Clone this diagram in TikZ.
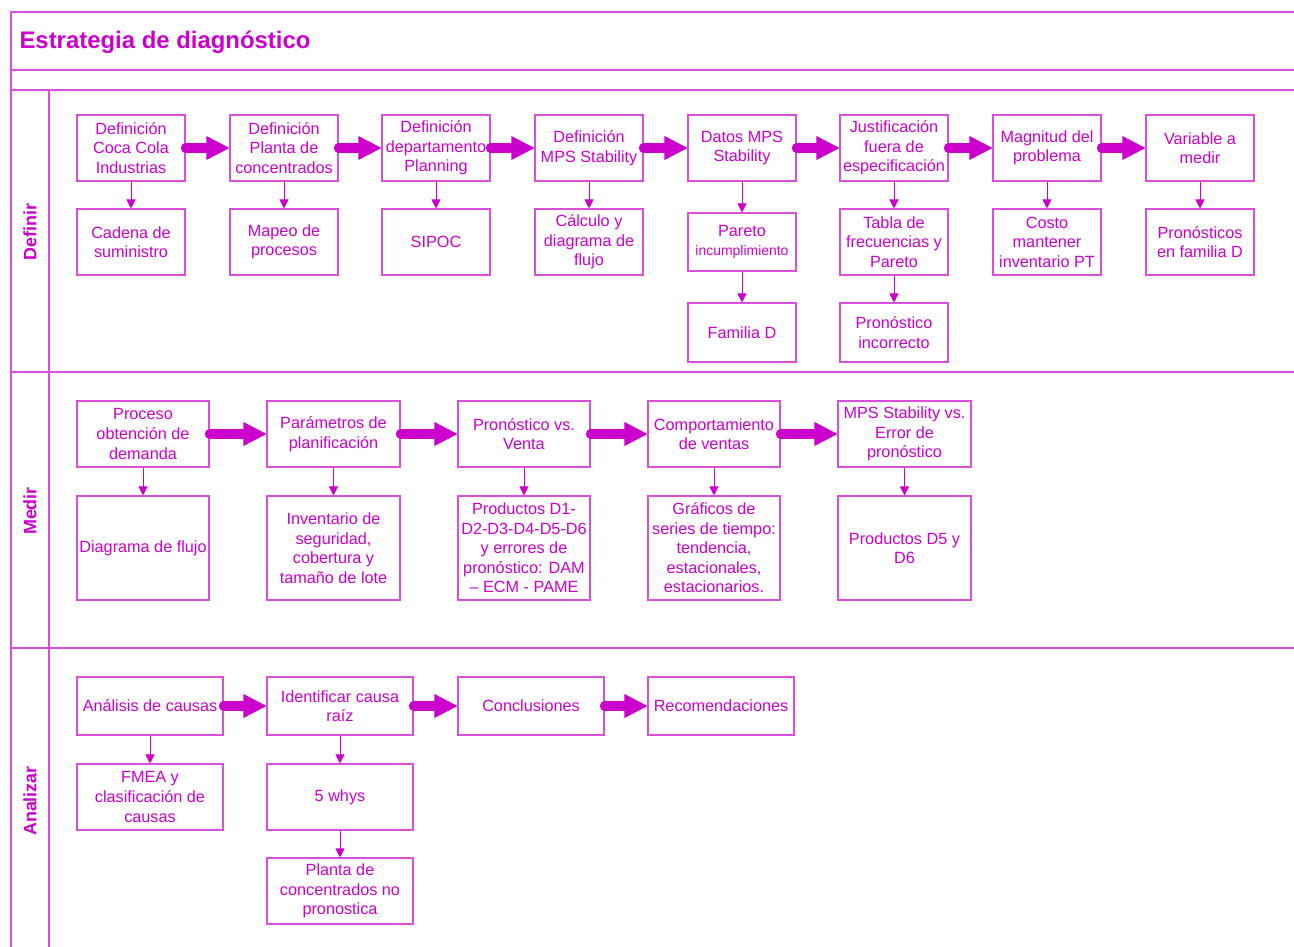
\documentclass[tikz,border=0pt]{standalone}
\usepackage{fontspec}
\setmainfont{Liberation Sans}
\usetikzlibrary{arrows.meta}
\definecolor{mag}{HTML}{CC00CC}
\definecolor{magline}{HTML}{D94FD9}

\tikzset{
  box/.style={draw=magline, line width=1.1bp, fill=white, inner sep=0pt,
    align=center, text=mag, font=\fontsize{16.3}{19.6}\selectfont},
  flow/.style={draw=mag, line width=9.5bp, line cap=round,
    -{Triangle[length=23bp,width=24bp,line width=0pt]}},
  sub/.style={draw=mag, line width=1bp,
    -{Triangle[length=9bp,width=9bp]}},
  lane/.style={draw=magline, line width=1.2bp},
  lanelabel/.style={rotate=90, text=mag, font=\bfseries\fontsize{18}{21}\selectfont}
}

% box given by its corners (x1,y1) and (x2,y2)
\newcommand\pbox[6]{%
  \node[box, minimum width={(#4-#2)*1bp}, minimum height={(#5-#3)*1bp}]
    (#1) at ({(#2+#4)/2},{(#3+#5)/2}) {#6};}

\begin{document}
\begin{tikzpicture}[x=1bp, y=-1bp]
\useasboundingbox (0,0) rectangle (1294,947);
\fill[white] (0,0) rectangle (1294,947);

% frame and swimlanes
\draw[lane] (1294,12) -- (11,12) -- (11,947);
\draw[lane] (11,70) -- (1294,70);
\draw[lane] (11,90) -- (1294,90);
\draw[lane] (11,372) -- (1294,372);
\draw[lane] (11,648) -- (1294,648);
\draw[lane] (49,90) -- (49,947);

\node[anchor=west, text=mag, font=\bfseries\fontsize{24}{28}\selectfont]
  (title) at (16,42) {Estrategia de diagnóstico};

\node[lanelabel] (lDef) at (30,232) {Definir};
\node[lanelabel] (lMed) at (30,511) {Medir};
\node[lanelabel] (lAna) at (30,801) {Analizar};

% Definir
\pbox{d1}{77}{115}{185}{181}{Definición\\Coca Cola\\Industrias}
\pbox{d2}{230}{115}{338}{181}{Definición\\Planta de\\concentrados}
\pbox{d3}{382}{115}{490}{181}{Definición\\departamento\\Planning}
\pbox{d4}{535}{115}{643}{181}{Definición\\MPS Stability}
\pbox{d5}{688}{115}{796}{181}{Datos MPS\\Stability}
\pbox{d6}{840}{115}{948}{181}{Justificación\\fuera de\\especificación}
\pbox{d7}{993}{115}{1101}{181}{Magnitud del\\problema}
\pbox{d8}{1146}{115}{1254}{181}{Variable a\\medir}

\pbox{e1}{77}{209}{185}{275}{Cadena de\\suministro}
\pbox{e2}{230}{209}{338}{275}{Mapeo de\\procesos}
\pbox{e3}{382}{209}{490}{275}{SIPOC}
\pbox{e4}{535}{209}{643}{275}{Cálculo y\\diagrama de\\flujo}
\pbox{e5}{688}{213}{796}{271}{Pareto\\{\fontsize{14}{17}\selectfont incumplimiento}}
\pbox{e6}{840}{209}{948}{275}{Tabla de\\frecuencias y\\Pareto}
\pbox{e7}{993}{209}{1101}{275}{Costo\\mantener\\inventario PT}
\pbox{e8}{1146}{209}{1254}{275}{Pronósticos\\en familia D}

\pbox{f5}{688}{303}{796}{362}{Familia D}
\pbox{f6}{840}{303}{948}{362}{Pronóstico\\incorrecto}

\foreach \a/\b in {d1/d2,d2/d3,d3/d4,d4/d5,d5/d6,d6/d7,d7/d8}
  \draw[flow] (\a.east) -- (\b.west);
\foreach \a/\b in {d1/e1,d2/e2,d3/e3,d4/e4,d5/e5,d6/e6,d7/e7,d8/e8,e5/f5,e6/f6}
  \draw[sub] (\a.south) -- (\b.north);

% Medir
\pbox{m1}{77}{401}{209}{467}{Proceso\\obtención de\\demanda}
\pbox{m2}{267}{401}{400}{467}{Parámetros de\\planificación}
\pbox{m3}{458}{401}{590}{467}{Pronóstico vs.\\Venta}
\pbox{m4}{648}{401}{780}{467}{Comportamiento\\de ventas}
\pbox{m5}{838}{401}{971}{467}{MPS Stability vs.\\Error de\\pronóstico}

\pbox{n1}{77}{496}{209}{600}{Diagrama de flujo}
\pbox{n2}{267}{496}{400}{600}{Inventario de\\seguridad,\\cobertura y\\tamaño de lote}
\pbox{n3}{458}{496}{590}{600}{Productos D1-\\D2-D3-D4-D5-D6\\y errores de\\pronóstico: DAM\\– ECM - PAME}
\pbox{n4}{648}{496}{780}{600}{Gráficos de\\series de tiempo:\\tendencia,\\estacionales,\\estacionarios.}
\pbox{n5}{838}{496}{971}{600}{Productos D5 y\\D6}

\foreach \a/\b in {m1/m2,m2/m3,m3/m4,m4/m5}
  \draw[flow] (\a.east) -- (\b.west);
\foreach \a/\b in {m1/n1,m2/n2,m3/n3,m4/n4,m5/n5}
  \draw[sub] (\a.south) -- (\b.north);

% Analizar
\pbox{a1}{77}{677}{223}{735}{Análisis de causas}
\pbox{a2}{267}{677}{413}{735}{Identificar causa\\raíz}
\pbox{a3}{458}{677}{604}{735}{Conclusiones}
\pbox{a4}{648}{677}{794}{735}{Recomendaciones}

\pbox{b1}{77}{764}{223}{830}{FMEA y\\clasificación de\\causas}
\pbox{b2}{267}{764}{413}{830}{5 whys}
\pbox{c2}{267}{858}{413}{924}{Planta de\\concentrados no\\pronostica}

\foreach \a/\b in {a1/a2,a2/a3,a3/a4}
  \draw[flow] (\a.east) -- (\b.west);
\foreach \a/\b in {a1/b1,a2/b2,b2/c2}
  \draw[sub] (\a.south) -- (\b.north);

\end{tikzpicture}
\end{document}
